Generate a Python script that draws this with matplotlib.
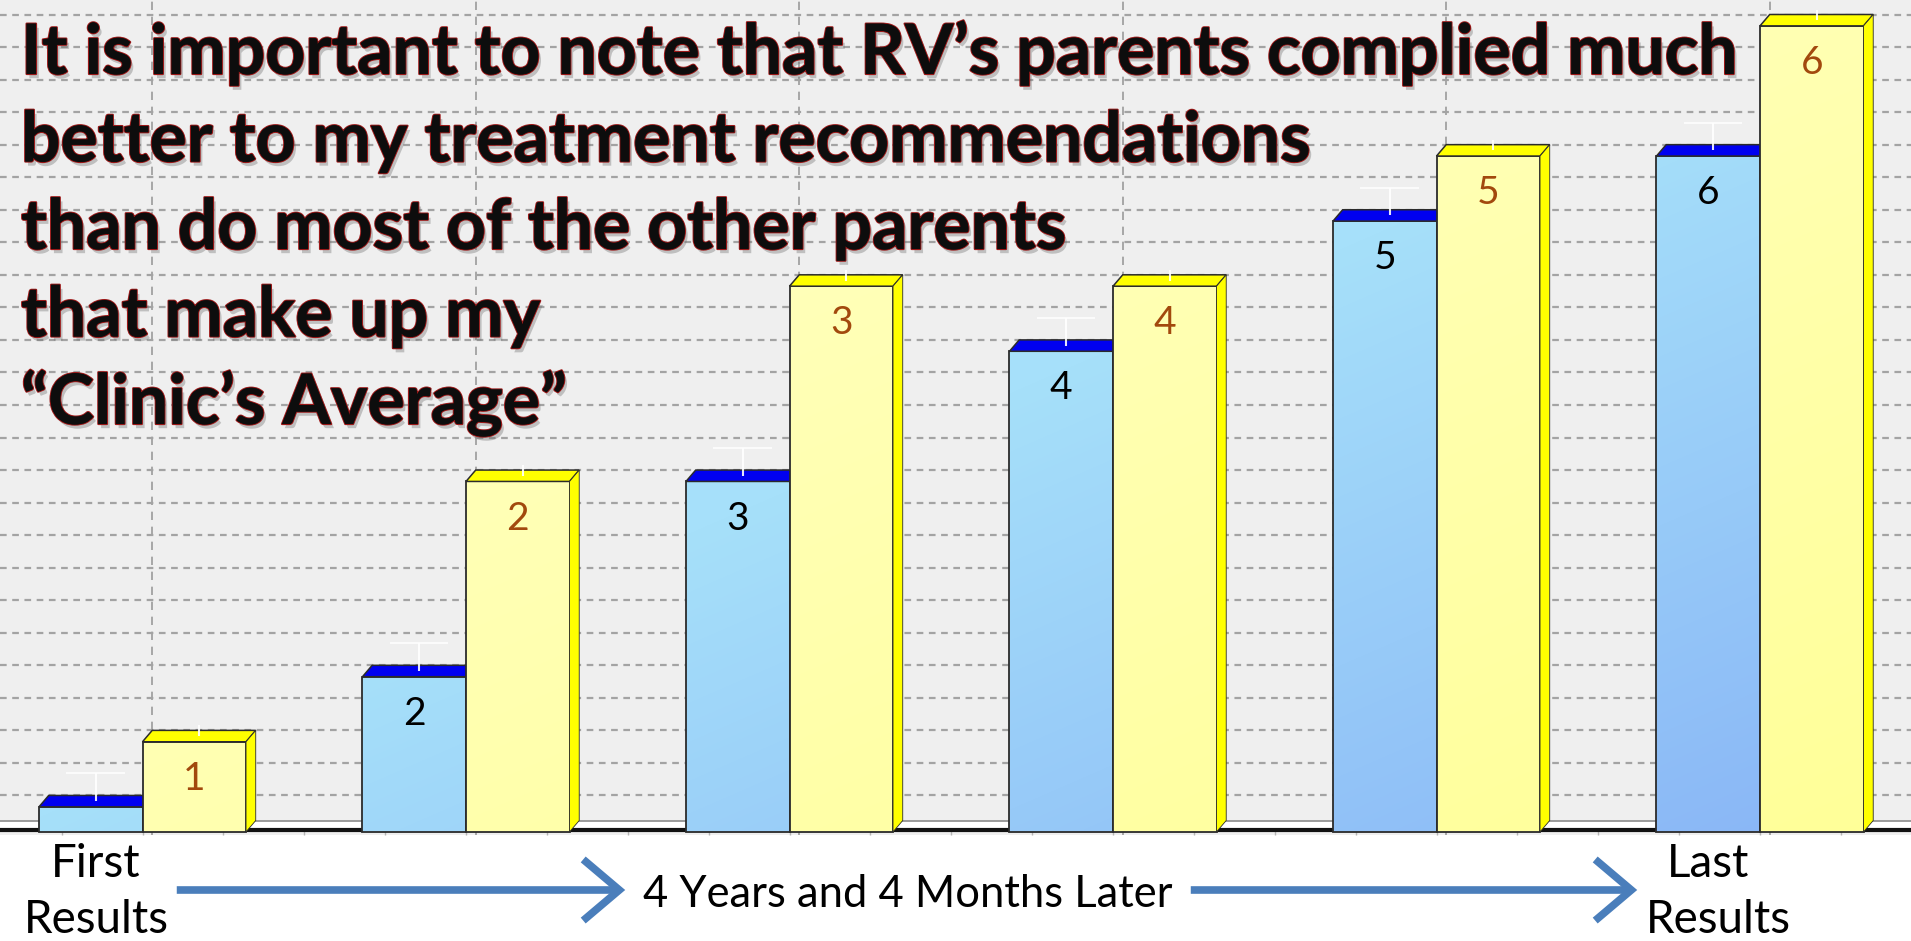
import numpy as np
import matplotlib
matplotlib.use("Agg")
import matplotlib.pyplot as plt
import matplotlib.patheffects as pe
from matplotlib.patches import Polygon, FancyArrowPatch
from matplotlib.colors import LinearSegmentedColormap

# bar heights, in grid steps above the floor
groups = np.arange(6)
rv_values = [1, 5, 11, 15, 19, 21]          # blue bars (RV)
clinic_values = [3, 11, 17, 17, 21, 25]     # yellow bars (clinic average)
rv_labels = ["", "2", "3", "4", "5", "6"]
clinic_labels = ["1", "2", "3", "4", "5", "6"]

title_lines = [
    "It is important to note that RV\u2019s parents complied much",
    "better to my treatment recommendations",
    "than do most of the other parents",
    "that make up my",
    "\u201cClinic\u2019s Average\u201d",
]

W, H = 1911, 941
fig = plt.figure(figsize=(W / 100, H / 100), dpi=100)
fig.patch.set_facecolor("white")
ax = fig.add_axes([0, (H - 835) / H, 1, 835 / H])
ax.set_facecolor("#efefef")

xlim = (-142.5 / 323.5, (W - 142.5) / 323.5)
ylim = (-7 / 32.54, 828 / 32.54)
ax.set_xlim(*xlim)
ax.set_ylim(*ylim)

w = 0.32          # bar width
dx, dy = 0.03, 0.35   # 3d depth
floor = -0.12

# grid on the back wall
ax.set_yticks(range(1, 26))
ax.set_xticks(groups + dx)
ax.set_xticks(np.arange(-0.25, 5.5, 0.25), minor=True)
ax.tick_params(axis="both", which="major", length=0, labelleft=False, labelbottom=False)
ax.tick_params(axis="x", which="minor", direction="in", length=4, color="#b5b5b5", width=1)
ax.grid(axis="y", color="#a3a3a3", linestyle=(0, (3, 2.5)), linewidth=1.6, zorder=0)
ax.grid(axis="x", color="#9a9a9a", linestyle=(0, (5, 4)), linewidth=1.2, zorder=0)
ax.set_axisbelow(True)
for s in ax.spines.values():
    s.set_visible(False)

# floor
ax.axhspan(-0.06, 0.22, color="white", zorder=0.5)
ax.axhline(0.22, color="#8a8a8a", lw=1.2, zorder=0.6)
ax.axhline(-0.06, color="#111111", lw=3, zorder=0.6)

# diagonal gradients over the whole plot
ny, nx = 200, 400
rr, cc = np.mgrid[0:ny, 0:nx]
grad = (rr / ny + cc / nx) / 2
blue_cmap = LinearSegmentedColormap.from_list("b", ["#b6effd", "#a6e0fa", "#88b4f6"])
yellow_cmap = LinearSegmentedColormap.from_list("y", ["#ffffcc", "#ffffb2", "#ffff98"])


def draw_series(left, values, cmap, top_color, side, z):
    bars = ax.bar(left, [v - dy - floor for v in values], width=w, bottom=floor,
                  align="edge", facecolor="none", edgecolor="#2b2b2b", lw=1.3, zorder=z + 0.1)
    for b in bars:
        im = ax.imshow(grad, cmap=cmap, extent=(xlim[0], xlim[1], ylim[0], ylim[1]),
                       origin="upper", aspect="auto", zorder=z, interpolation="bilinear")
        im.set_clip_path(b)
        x0, x1 = b.get_x(), b.get_x() + b.get_width()
        yt = b.get_y() + b.get_height()
        ax.add_patch(Polygon([(x0, yt), (x0 + dx, yt + dy), (x1 + dx, yt + dy), (x1, yt)],
                             closed=True, facecolor=top_color, edgecolor="#2b2b2b",
                             lw=1.1, zorder=z + 0.2))
        if side:
            ax.add_patch(Polygon([(x1, floor), (x1 + dx, floor + dy), (x1 + dx, yt + dy), (x1, yt)],
                                 closed=True, facecolor=top_color, edgecolor="#2b2b2b",
                                 lw=0.6, zorder=z + 0.2))
    return bars


rv_bars = draw_series(groups - w, rv_values, blue_cmap, "#0000f0", False, 3)
cl_bars = draw_series(groups, clinic_values, yellow_cmap, "#ffff00", True, 4)
ax.set_xlim(*xlim)
ax.set_ylim(*ylim)

# faint white whiskers above the bars
rv_cx = groups - w / 2 + dx / 2
ax.errorbar(rv_cx, np.array(rv_values) - dy / 2, yerr=[np.zeros(6), np.full(6, dy / 2 + 0.68)],
            fmt="none", ecolor="white", elinewidth=1.5, capsize=0, zorder=3.5, alpha=0.9)
ax.hlines(np.array(rv_values) + 0.68, rv_cx - 0.09, rv_cx + 0.09, color="white", lw=1.5,
          alpha=0.8, zorder=2)
cl_cx = groups + w / 2 + dx / 2
ax.errorbar(cl_cx, np.array(clinic_values) - dy / 2, yerr=[np.zeros(6), np.full(6, dy / 2 + 0.15)],
            fmt="none", ecolor="white", elinewidth=1.5, capsize=0, zorder=4.5, alpha=0.9)

# value labels inside the bars
for b, lab in zip(rv_bars, rv_labels):
    ax.text(b.get_x() + w / 2, b.get_y() + b.get_height() - 1.14, lab, ha="center", va="center",
            fontsize=28, family="Lato", color="black", zorder=6)
for b, lab in zip(cl_bars, clinic_labels):
    ax.text(b.get_x() + w / 2, b.get_y() + b.get_height() - 1.14, lab, ha="center", va="center",
            fontsize=28, family="Lato", color="#a2490d", zorder=6)

# big annotation text
effects = [pe.SimplePatchShadow(offset=(2, -3), shadow_rgbFace="#666666", alpha=0.35),
           pe.withStroke(linewidth=1.6, foreground="#9a1818"),
           pe.Normal()]
title_texts = []
for i, line in enumerate(title_lines):
    t = fig.text(21 / W, 1 - (74 + 87.5 * i) / H, line, ha="left", va="baseline",
                 fontsize=46, family="Lato", fontweight="bold", color="#0d0d0d",
                 path_effects=effects, zorder=10)
    title_texts.append(t)

# bottom labels
mid = fig.text(908 / W, 1 - 907 / H, "4 Years and 4 Months Later", ha="center",
               va="baseline", fontsize=30, family="Lato", color="black")
side_texts = [
    fig.text(96 / W, 1 - 877 / H, "First", ha="center", va="baseline", fontsize=30, family="Lato"),
    fig.text(96 / W, 1 - 933 / H, "Results", ha="center", va="baseline", fontsize=30, family="Lato"),
    fig.text(1708 / W, 1 - 877 / H, "Last", ha="center", va="baseline", fontsize=30, family="Lato"),
    fig.text(1718 / W, 1 - 933 / H, "Results", ha="center", va="baseline", fontsize=30, family="Lato"),
]

# scale fonts so the text widths match the slide
fig.canvas.draw()
r = fig.canvas.get_renderer()
scale = 1716 / title_texts[0].get_window_extent(renderer=r).width
for t in title_texts:
    t.set_fontsize(t.get_fontsize() * scale)
scale = 529 / mid.get_window_extent(renderer=r).width
for t in [mid] + side_texts:
    t.set_fontsize(t.get_fontsize() * scale * 1.0)
for t in side_texts:
    t.set_fontsize(t.get_fontsize() * 1.05)

for x0, x1 in [(174, 628), (1188, 1640)]:
    arr = FancyArrowPatch((x0 / W, 1 - 890 / H), (x1 / W, 1 - 890 / H),
                          transform=fig.transFigure,
                          arrowstyle="->,head_length=1.3,head_width=1.1",
                          mutation_scale=20, color="#4a7ebb", lw=5.5,
                          joinstyle="miter", capstyle="butt")
    fig.add_artist(arr)

fig.savefig("out.png", dpi=100, facecolor="white")
